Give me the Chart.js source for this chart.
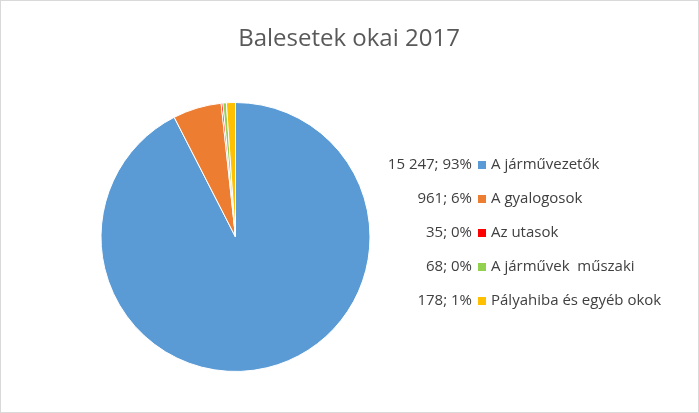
<!DOCTYPE html>
<html>
<head>
<meta charset="utf-8">
<script src="https://cdn.jsdelivr.net/npm/chart.js@4/dist/chart.umd.min.js"></script>
<style>
  html, body { margin: 0; padding: 0; background: #fff; }
  #wrap { position: relative; width: 697px; height: 411px; border: 1px solid #d9d9d9; }
</style>
</head>
<body>
<div id="wrap"><canvas id="myChart" width="697" height="411"></canvas></div>
<script>
const categories = ["A járművezetők", "A gyalogosok", "Az utasok", "A járművek  műszaki", "Pályahiba és egyéb okok"]
const values = [15247, 961, 35, 68, 178]
const valueLabels = ["15 247; 93%", "961; 6%", "35; 0%", "68; 0%", "178; 1%"]
const colors = ["rgb(91, 155, 213)", "rgb(237, 125, 49)", "rgb(255, 0, 0)", "rgb(146, 208, 80)", "rgb(255, 192, 0)"]

const sideLegend = {
    id: "sideLegend",
    afterDraw(chart) {
        const ctx = chart.ctx
        ctx.save()
        ctx.font = "15px 'Open Sans', sans-serif"
        ctx.textBaseline = "middle"
        categories.forEach((name, i) => {
            const y = 164 + i * 34
            ctx.fillStyle = colors[i]
            ctx.fillRect(477, y - 4, 8, 8)
            ctx.fillStyle = "rgb(64, 64, 64)"
            ctx.textAlign = "right"
            ctx.fillText(valueLabels[i], 471, y)
            ctx.textAlign = "left"
            ctx.fillText(name, 490, y)
        })
        ctx.restore()
    }
}

const ctx1 = document.getElementById("myChart").getContext("2d")
new Chart(ctx1, {
    type: "pie",
    data: {
        labels: categories,
        datasets: [{
            data: values,
            backgroundColor: colors,
            borderColor: "#fff",
            borderWidth: 1
        }]
    },
    options: {
        responsive: false,
        animation: false,
        layout: { padding: { top: 101, bottom: 40, left: 99, right: 327 } },
        plugins: {
            legend: { display: false },
            tooltip: { enabled: false },
            title: { display: false }
        }
    },
    plugins: [sideLegend, {
        id: "titleText",
        afterDraw(chart) {
            const c = chart.ctx
            c.save()
            c.font = "24px 'Open Sans', sans-serif"
            c.fillStyle = "rgb(89, 89, 89)"
            c.textAlign = "center"
            c.textBaseline = "middle"
            c.fillText("Balesetek okai 2017", 348, 38)
            c.restore()
        }
    }]
})
</script>
</body>
</html>
